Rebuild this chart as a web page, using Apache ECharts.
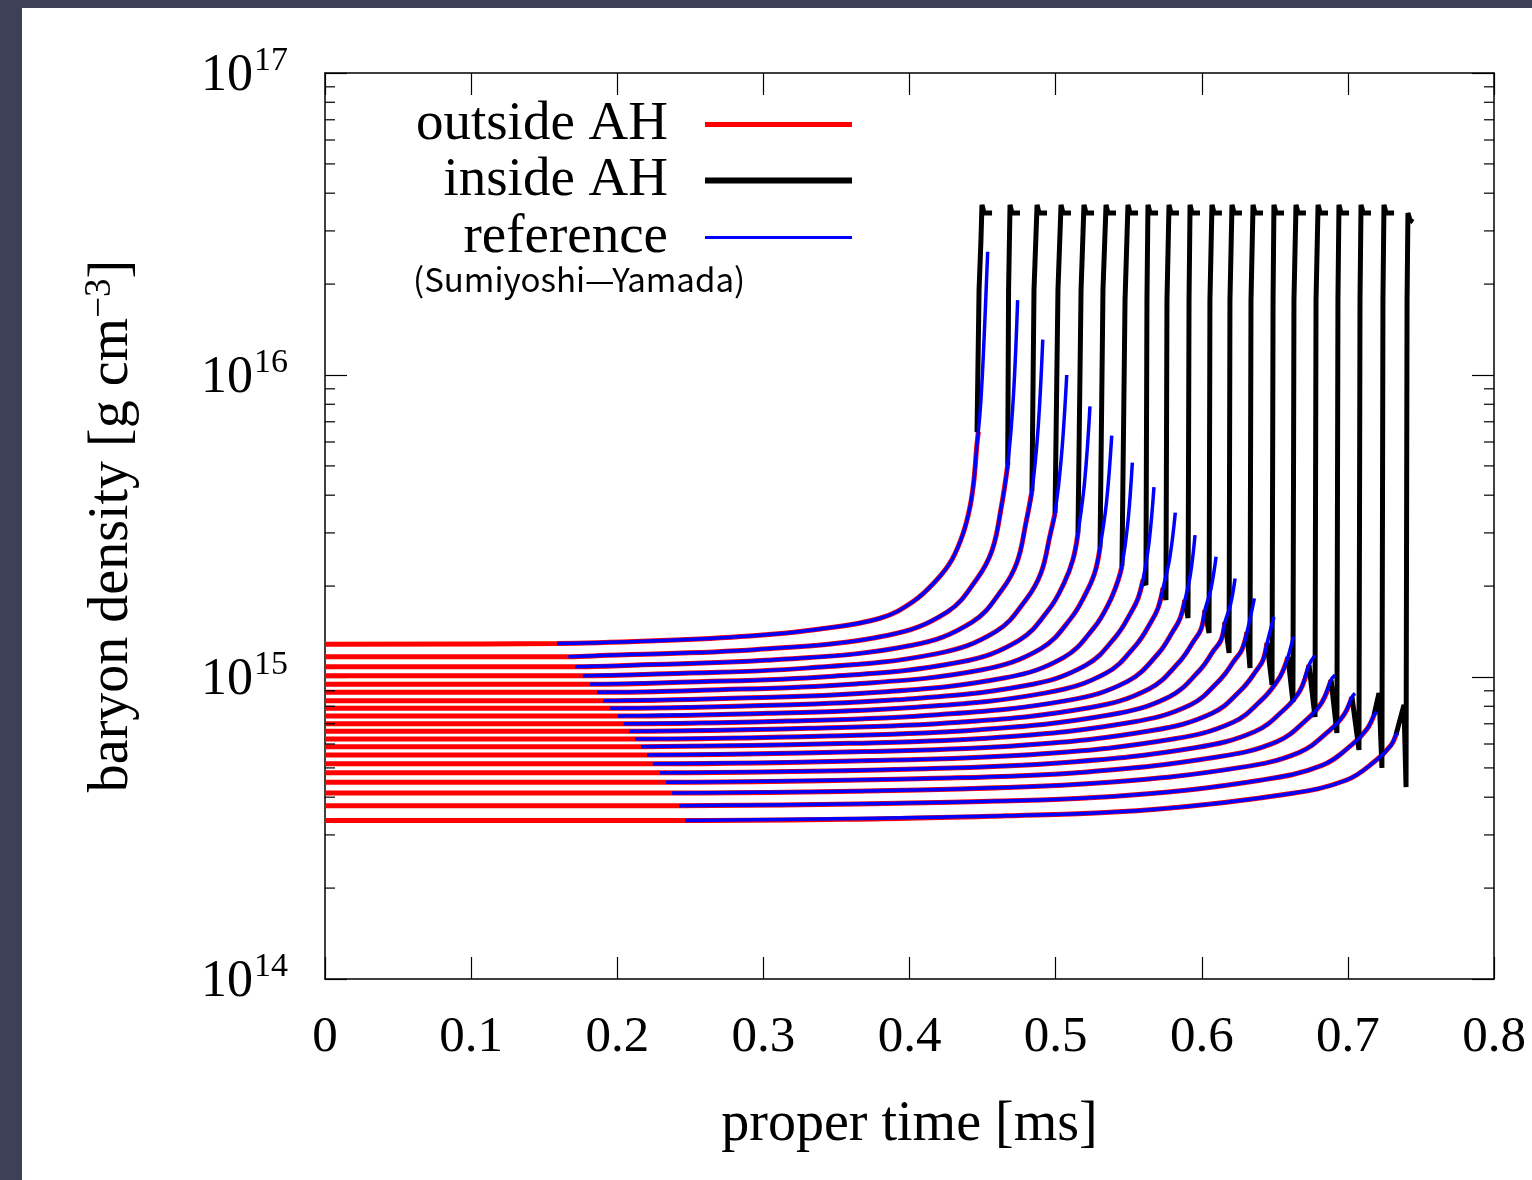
<!DOCTYPE html>
<html><head><meta charset="utf-8">
<script src="https://cdn.jsdelivr.net/npm/echarts@6/dist/echarts.min.js"></script>
<style>
html,body{margin:0;padding:0;background:#3e4057;width:1532px;height:1180px;overflow:hidden}
#chart{position:absolute;left:22px;top:8px;width:1510px;height:1172px;background:#fff}
</style></head><body><div id="chart"></div>
<script>
// ---------------- data ----------------
const xTickLabels = ['0','0.1','0.2','0.3','0.4','0.5','0.6','0.7','0.8'];
const yMinorTickValues = [2e14,3e14,4e14,5e14,6e14,7e14,8e14,9e14,2e15,3e15,4e15,5e15,6e15,7e15,8e15,9e15,2e16,3e16,4e16,5e16,6e16,7e16,8e16,9e16];

// outside AH (red): one list per shell, proper time [ms] and baryon density [g cm^-3]
const outsideTimes = [
  [0,0.1588,0.2224,0.2908,0.3388,0.3798,0.4024,0.4186,0.4289,0.4368,0.4414,0.4441,0.4460,0.4471],
  [0,0.1665,0.1930,0.2956,0.3846,0.4257,0.4462,0.4565,0.4626,0.4672],
  [0,0.1713,0.2101,0.3127,0.4017,0.4428,0.4633,0.4736,0.4797,0.4838],
  [0,0.1764,0.2265,0.3292,0.4181,0.4592,0.4797,0.4900,0.4962,0.4996],
  [0,0.1814,0.2423,0.3449,0.4339,0.4749,0.4955,0.5057,0.5119,0.5153],
  [0,0.1863,0.2573,0.3600,0.4489,0.4900,0.5105,0.5208,0.5269,0.5304],
  [0,0.1904,0.2731,0.3757,0.4647,0.5057,0.5263,0.5365,0.5427,0.5454],
  [0,0.1952,0.2881,0.3908,0.4797,0.5208,0.5413,0.5516,0.5564,0.5598],
  [0,0.2003,0.3018,0.4045,0.4934,0.5345,0.5550,0.5653,0.5701,0.5735],
  [0,0.2044,0.3169,0.4195,0.5085,0.5495,0.5701,0.5803,0.5851,0.5885],
  [0,0.2082,0.3312,0.4339,0.5228,0.5639,0.5844,0.5947,0.5995,0.6022],
  [0,0.2124,0.3449,0.4476,0.5365,0.5776,0.5981,0.6084,0.6132,0.6159],
  [0,0.2163,0.3593,0.4619,0.5509,0.5920,0.6125,0.6228,0.6275,0.6310],
  [0,0.2204,0.3743,0.4770,0.5660,0.6070,0.6275,0.6378,0.6419,0.6447],
  [0,0.2243,0.3887,0.4914,0.5803,0.6214,0.6419,0.6522,0.6556,0.6590],
  [0,0.2293,0.4038,0.5064,0.5954,0.6364,0.6570,0.6672,0.6734],
  [0,0.2334,0.4188,0.5215,0.6104,0.6515,0.6720,0.6823,0.6885],
  [0,0.2375,0.4339,0.5365,0.6255,0.6665,0.6871,0.6974,0.7028],
  [0,0.2425,0.4496,0.5523,0.6412,0.6823,0.7028,0.7131,0.7179],
  [0,0.2466,0.4660,0.5687,0.6577,0.6987,0.7193,0.7295,0.7329]
];
const outsideRho = [
  [1.283e15,1.291e15,1.316e15,1.367e15,1.442e15,1.565e15,1.776e15,2.096e15,2.44e15,3.00e15,3.66e15,4.49e15,5.79e15,6.49e15],
  [1.167e15,1.167e15,1.180e15,1.233e15,1.373e15,1.641e15,2.116e15,2.626e15,3.600e15,5.04e15],
  [1.082e15,1.082e15,1.094e15,1.144e15,1.274e15,1.519e15,1.945e15,2.399e15,3.243e15,4.13e15],
  [1.010e15,1.010e15,1.023e15,1.070e15,1.193e15,1.415e15,1.803e15,2.212e15,2.948e15,3.49e15],
  [9.46e14,9.46e14,9.60e14,1.004e15,1.119e15,1.322e15,1.676e15,2.043e15,2.453e15,3.00e15],
  [8.90e14,8.90e14,9.04e14,9.47e14,1.055e15,1.242e15,1.565e15,1.897e15,2.222e15,2.69e15],
  [8.35e14,8.35e14,8.49e14,8.89e14,9.92e14,1.162e15,1.457e15,1.757e15,2.084e15,2.33e15],
  [7.88e14,7.88e14,8.02e14,8.40e14,9.37e14,1.095e15,1.364e15,1.636e15,1.822e15,2.10e15],
  [7.43e14,7.43e14,7.58e14,7.94e14,8.86e14,1.030e15,1.276e15,1.522e15,1.692e15,1.970e15],
  [7.00e14,7.00e14,7.15e14,7.50e14,8.37e14,9.69e14,1.194e15,1.417e15,1.560e15,1.80e15],
  [6.61e14,6.61e14,6.76e14,7.08e14,7.91e14,9.13e14,1.119e15,1.319e15,1.439e15,1.667e15],
  [6.23e14,6.23e14,6.38e14,6.69e14,7.48e14,8.59e14,1.047e15,1.228e15,1.326e15,1.521e15],
  [5.88e14,5.88e14,6.03e14,6.32e14,7.07e14,8.08e14,9.80e14,1.142e15,1.232e15,1.409e15],
  [5.52e14,5.52e14,5.67e14,5.94e14,6.65e14,7.58e14,9.13e14,1.058e15,1.138e15,1.296e15],
  [5.16e14,5.16e14,5.31e14,5.57e14,6.23e14,7.08e14,8.48e14,9.77e14,1.049e15,1.165e15],
  [4.82e14,4.82e14,4.96e14,5.21e14,5.83e14,6.60e14,7.85e14,9.01e14,1.096e15],
  [4.48e14,4.48e14,4.62e14,4.85e14,5.43e14,6.11e14,7.24e14,8.26e14,9.77e14],
  [4.13e14,4.13e14,4.26e14,4.48e14,5.01e14,5.62e14,6.63e14,7.51e14,8.59e14],
  [3.75e14,3.75e14,3.87e14,4.07e14,4.56e14,5.10e14,5.97e14,6.73e14,7.48e14],
  [3.35e14,3.35e14,3.47e14,3.65e14,4.09e14,4.55e14,5.30e14,5.94e14,6.43e14]
];

// reference, Sumiyoshi-Yamada (blue)
const referenceTimes = [
  [0.1588,0.2224,0.2908,0.3388,0.3798,0.4024,0.4186,0.4289,0.4368,0.4414,0.4441,0.4460,0.4471,0.4489,0.4510,0.4535],
  [0.1665,0.1930,0.2956,0.3846,0.4257,0.4462,0.4565,0.4626,0.4672,0.4710,0.4740],
  [0.1713,0.2101,0.3127,0.4017,0.4428,0.4633,0.4736,0.4797,0.4838,0.4879,0.4912],
  [0.1764,0.2265,0.3292,0.4181,0.4592,0.4797,0.4900,0.4962,0.4996,0.5039,0.5076],
  [0.1814,0.2423,0.3449,0.4339,0.4749,0.4955,0.5057,0.5119,0.5153,0.5198,0.5235],
  [0.1863,0.2573,0.3600,0.4489,0.4900,0.5105,0.5208,0.5269,0.5304,0.5348,0.5384],
  [0.1904,0.2731,0.3757,0.4647,0.5057,0.5263,0.5365,0.5427,0.5454,0.5493,0.5525],
  [0.1952,0.2881,0.3908,0.4797,0.5208,0.5413,0.5516,0.5564,0.5598,0.5639,0.5673],
  [0.2003,0.3018,0.4045,0.4934,0.5345,0.5550,0.5653,0.5701,0.5735,0.5781,0.5819],
  [0.2044,0.3169,0.4195,0.5085,0.5495,0.5701,0.5803,0.5851,0.5885,0.5923,0.5954],
  [0.2082,0.3312,0.4339,0.5228,0.5639,0.5844,0.5947,0.5995,0.6022,0.6063,0.6098],
  [0.2124,0.3449,0.4476,0.5365,0.5776,0.5981,0.6084,0.6132,0.6159,0.6197,0.6228],
  [0.2163,0.3593,0.4619,0.5509,0.5920,0.6125,0.6228,0.6275,0.6310,0.6360],
  [0.2204,0.3743,0.4770,0.5660,0.6070,0.6275,0.6378,0.6419,0.6447,0.6494],
  [0.2243,0.3887,0.4914,0.5803,0.6214,0.6419,0.6522,0.6556,0.6590,0.6627],
  [0.2293,0.4038,0.5064,0.5954,0.6364,0.6570,0.6672,0.6734,0.6775],
  [0.2334,0.4188,0.5215,0.6104,0.6515,0.6720,0.6823,0.6885,0.6912],
  [0.2375,0.4339,0.5365,0.6255,0.6665,0.6871,0.6974,0.7028,0.7049],
  [0.2425,0.4496,0.5523,0.6412,0.6823,0.7028,0.7131,0.7179,0.7197],
  [0.2466,0.4660,0.5687,0.6577,0.6987,0.7193,0.7295,0.7329,0.7345]
];
const referenceRho = [
  [1.291e15,1.316e15,1.367e15,1.442e15,1.565e15,1.776e15,2.096e15,2.44e15,3.00e15,3.66e15,4.49e15,5.79e15,6.49e15,8.27e15,1.306e16,2.56e16],
  [1.167e15,1.180e15,1.233e15,1.373e15,1.641e15,2.116e15,2.626e15,3.600e15,5.04e15,8.33e15,1.77e16],
  [1.082e15,1.094e15,1.144e15,1.274e15,1.519e15,1.945e15,2.399e15,3.243e15,4.13e15,6.545e15,1.31e16],
  [1.010e15,1.023e15,1.070e15,1.193e15,1.415e15,1.803e15,2.212e15,2.948e15,3.49e15,5.318e15,1.00e16],
  [9.46e14,9.60e14,1.004e15,1.119e15,1.322e15,1.676e15,2.043e15,2.453e15,3.00e15,4.41e15,7.87e15],
  [8.90e14,9.04e14,9.47e14,1.055e15,1.242e15,1.565e15,1.897e15,2.222e15,2.69e15,3.785e15,6.30e15],
  [8.35e14,8.49e14,8.89e14,9.92e14,1.162e15,1.457e15,1.757e15,2.084e15,2.33e15,3.194e15,5.13e15],
  [7.88e14,8.02e14,8.40e14,9.37e14,1.095e15,1.364e15,1.636e15,1.822e15,2.10e15,2.780e15,4.25e15],
  [7.43e14,7.58e14,7.94e14,8.86e14,1.030e15,1.276e15,1.522e15,1.692e15,1.970e15,2.480e15,3.50e15],
  [7.00e14,7.15e14,7.50e14,8.37e14,9.69e14,1.194e15,1.417e15,1.560e15,1.80e15,2.194e15,2.95e15],
  [6.61e14,6.76e14,7.08e14,7.91e14,9.13e14,1.119e15,1.319e15,1.439e15,1.667e15,1.959e15,2.50e15],
  [6.23e14,6.38e14,6.69e14,7.48e14,8.59e14,1.047e15,1.228e15,1.326e15,1.521e15,1.739e15,2.12e15],
  [5.88e14,6.03e14,6.32e14,7.07e14,8.08e14,9.80e14,1.142e15,1.232e15,1.409e15,1.82e15],
  [5.52e14,5.67e14,5.94e14,6.65e14,7.58e14,9.13e14,1.058e15,1.138e15,1.296e15,1.58e15],
  [5.16e14,5.31e14,5.57e14,6.23e14,7.08e14,8.48e14,9.77e14,1.049e15,1.165e15,1.36e15],
  [4.82e14,4.96e14,5.21e14,5.83e14,6.60e14,7.85e14,9.01e14,1.096e15,1.18e15],
  [4.48e14,4.62e14,4.85e14,5.43e14,6.11e14,7.24e14,8.26e14,9.77e14,1.015e15],
  [4.13e14,4.26e14,4.48e14,5.01e14,5.62e14,6.63e14,7.51e14,8.59e14,8.83e14],
  [3.75e14,3.87e14,4.07e14,4.56e14,5.10e14,5.97e14,6.73e14,7.48e14,7.68e14],
  [3.35e14,3.47e14,3.65e14,4.09e14,4.55e14,5.30e14,5.94e14,6.43e14,6.51e14]
];

// inside AH (black)
const insideTimes = [
  [0.4462,0.4476,0.4489,0.4496,0.4510,0.4565],
  [0.4672,0.4678,0.4688,0.4701,0.4756],
  [0.4838,0.4852,0.4873,0.4886,0.4941],
  [0.4996,0.5016,0.5037,0.5050,0.5105],
  [0.5153,0.5174,0.5194,0.5208,0.5263],
  [0.5304,0.5324,0.5345,0.5358,0.5413],
  [0.5454,0.5475,0.5495,0.5509,0.5564],
  [0.5598,0.5618,0.5625,0.5632,0.5646,0.5701],
  [0.5735,0.5755,0.5762,0.5776,0.5789,0.5844],
  [0.5885,0.5906,0.5913,0.5920,0.5933,0.5988],
  [0.6022,0.6050,0.6056,0.6070,0.6084,0.6138],
  [0.6159,0.6187,0.6193,0.6207,0.6221,0.6275],
  [0.6310,0.6330,0.6337,0.6351,0.6364,0.6419],
  [0.6447,0.6481,0.6488,0.6494,0.6508,0.6563],
  [0.6590,0.6624,0.6631,0.6645,0.6659,0.6713],
  [0.6734,0.6775,0.6782,0.6796,0.6810,0.6864],
  [0.6885,0.6925,0.6932,0.6939,0.6953,0.7008],
  [0.7028,0.7076,0.7083,0.7090,0.7104,0.7158],
  [0.7179,0.7213,0.7233,0.7240,0.7247,0.7261,0.7316],
  [0.7329,0.7384,0.7398,0.7405,0.7411,0.7425,0.7446]
];
const insideRho = [
  [6.47e15,1.91e16,2.80e16,3.66e16,3.44e16,3.44e16],
  [5.04e15,1.91e16,3.66e16,3.44e16,3.44e16],
  [4.13e15,1.91e16,3.66e16,3.44e16,3.44e16],
  [3.49e15,1.91e16,3.66e16,3.44e16,3.44e16],
  [3.00e15,1.91e16,3.66e16,3.44e16,3.44e16],
  [2.69e15,1.91e16,3.66e16,3.44e16,3.44e16],
  [2.33e15,1.77e16,3.66e16,3.44e16,3.44e16],
  [2.10e15,2.016e15,1.77e16,3.66e16,3.44e16,3.44e16],
  [1.970e15,1.799e15,1.77e16,3.66e16,3.44e16,3.44e16],
  [1.80e15,1.568e15,1.77e16,3.66e16,3.44e16,3.44e16],
  [1.667e15,1.399e15,1.77e16,3.66e16,3.44e16,3.44e16],
  [1.521e15,1.201e15,1.77e16,3.66e16,3.44e16,3.44e16],
  [1.409e15,1.071e15,1.77e16,3.66e16,3.44e16,3.44e16],
  [1.296e15,9.41e14,1.77e16,3.66e16,3.44e16,3.44e16],
  [1.165e15,8.27e14,1.77e16,3.66e16,3.44e16,3.44e16],
  [1.096e15,7.37e14,1.77e16,3.66e16,3.44e16,3.44e16],
  [9.77e14,6.52e14,1.77e16,3.66e16,3.44e16,3.44e16],
  [8.59e14,5.73e14,1.77e16,3.66e16,3.44e16,3.44e16],
  [7.48e14,8.85e14,5.00e14,1.77e16,3.66e16,3.44e16,3.44e16],
  [6.43e14,8.08e14,4.32e14,1.77e16,3.44e16,3.26e16,3.21e16]
];

// ---------------- chart ----------------
const serif = '"Liberation Serif","DejaVu Serif",serif';
const pairs = (ts, rs) => ts.map((t, i) => [t, rs[i]]);
const series = [];
outsideTimes.forEach((ts, k) => series.push({
  name: 'outside AH', type: 'line', data: pairs(ts, outsideRho[k]), showSymbol: false, symbol: 'none',
  smooth: 0.4, smoothMonotone: 'none', lineStyle: {color: '#ff0000', width: 5}, itemStyle: {color: '#ff0000'}, z: 2, silent: true
}));
insideTimes.forEach((ts, k) => series.push({
  name: 'inside AH', type: 'line', data: pairs(ts, insideRho[k]), showSymbol: false, symbol: 'none',
  lineStyle: {color: '#000000', width: 5, join: 'bevel', cap: 'butt'}, itemStyle: {color: '#000000'}, z: 3, silent: true
}));
referenceTimes.forEach((ts, k) => series.push({
  name: 'reference', type: 'line', data: pairs(ts, referenceRho[k]), showSymbol: false, symbol: 'none',
  smooth: 0.4, smoothMonotone: 'none', lineStyle: {color: '#0000ff', width: 3.5}, itemStyle: {color: '#0000ff'}, z: 4, silent: true
}));
series.push({
  type: 'custom', xAxisIndex: 0, yAxisIndex: 0, silent: true, clip: false, z: 10,
  data: yMinorTickValues.map(v => [0, v]), encode: {x: 0, y: 1},
  renderItem: (params, api) => {
    const v = api.value(1);
    const l = api.coord([0, v]), r = api.coord([0.8, v]);
    return {type: 'group', children: [
      {type: 'line', shape: {x1: l[0], y1: l[1], x2: l[0] + 10, y2: l[1]}, style: {stroke: '#000', lineWidth: 1.2}},
      {type: 'line', shape: {x1: r[0] - 10, y1: r[1], x2: r[0], y2: r[1]}, style: {stroke: '#000', lineWidth: 1.2}}
    ]};
  }
});

const legendBase = {orient: 'horizontal', align: 'right', right: 675, itemWidth: 147, icon: 'rect', selectedMode: false,
  textStyle: {fontFamily: serif, fontSize: 55, color: '#000', lineHeight: 54, padding: [0, 32, 0, 0]}};
const axisLineStyle = {onZero: false, lineStyle: {color: '#000', width: 1.5}};
const tickStyle = {inside: true, length: 22, lineStyle: {color: '#000', width: 1.2}};

const option = {
  animation: false,
  backgroundColor: '#ffffff',
  title: {text: '(Sumiyoshi\u2014Yamada)', left: 386, top: 250,
    textStyle: {fontFamily: '"Noto Sans CJK JP","Noto Sans",sans-serif', fontSize: 33, fontWeight: 'normal', color: '#000'}},
  legend: [
    Object.assign({}, legendBase, {data: ['outside AH'], top: 84, itemHeight: 5}),
    Object.assign({}, legendBase, {data: ['inside AH'], top: 140, itemHeight: 6}),
    Object.assign({}, legendBase, {data: ['reference'], top: 197, itemHeight: 3})
  ],
  grid: {left: 303, top: 65, right: 38, bottom: 201, containLabel: false},
  xAxis: [
    {type: 'value', min: 0, max: 0.8, interval: 0.1, position: 'bottom',
     axisLine: axisLineStyle, axisTick: tickStyle, splitLine: {show: false},
     axisLabel: {margin: 33, fontFamily: serif, fontSize: 51, color: '#000',
       formatter: v => xTickLabels[Math.round(v * 10)]},
     name: 'proper time [ms]', nameLocation: 'middle', nameGap: 118,
     nameTextStyle: {fontFamily: serif, fontSize: 56, color: '#000'}},
    {type: 'value', min: 0, max: 0.8, interval: 0.1, position: 'top',
     axisLine: axisLineStyle, axisTick: tickStyle, axisLabel: {show: false}, splitLine: {show: false}}
  ],
  yAxis: [
    {type: 'log', logBase: 10, min: 1e14, max: 1e17, position: 'left',
     axisLine: Object.assign({show: true}, axisLineStyle), axisTick: Object.assign({show: true}, tickStyle),
     splitLine: {show: false}, minorTick: {show: false},
     axisLabel: {margin: 37,
       formatter: v => '{b|10}{s|' + Math.round(Math.log10(v)) + '}',
       rich: {b: {fontFamily: serif, fontSize: 52, color: '#000', lineHeight: 58, verticalAlign: 'bottom'},
              s: {fontFamily: serif, fontSize: 34, color: '#000', lineHeight: 34, verticalAlign: 'top', padding: [0, 0, 0, 1]}}},
     name: 'baryon density [g cm{s|\u22123}]', nameLocation: 'middle', nameGap: 183,
     nameTextStyle: {fontFamily: serif, fontSize: 56, color: '#000', lineHeight: 60, verticalAlign: 'bottom',
       rich: {s: {fontFamily: serif, fontSize: 37, color: '#000', lineHeight: 37, verticalAlign: 'top'}}}},
    {type: 'log', logBase: 10, min: 1e14, max: 1e17, position: 'right',
     axisLine: Object.assign({show: true}, axisLineStyle), axisTick: Object.assign({show: true}, tickStyle),
     axisLabel: {show: false}, splitLine: {show: false}}
  ],
  series: series
};
const chart = echarts.init(document.getElementById('chart'), null, {renderer: 'canvas'});
chart.setOption(option);
</script></body></html>
